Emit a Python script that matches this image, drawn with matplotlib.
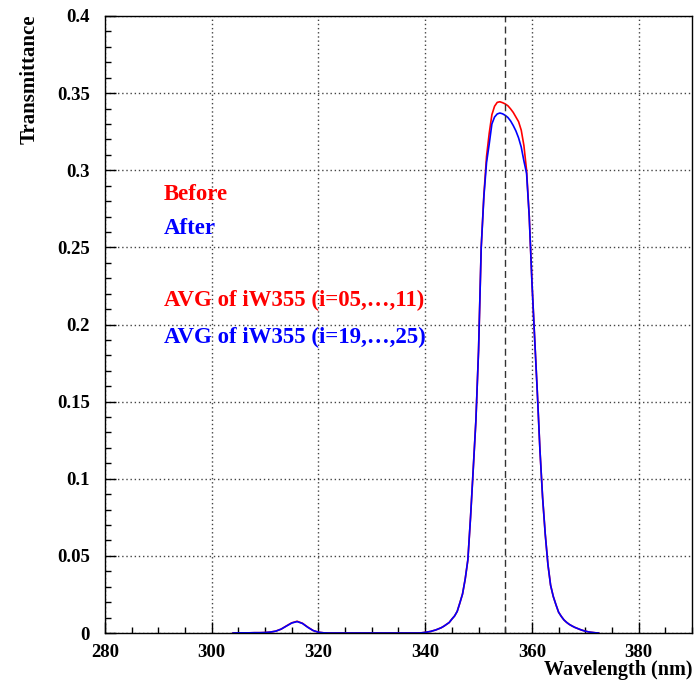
import numpy as np
import matplotlib.pyplot as plt
from matplotlib.ticker import MultipleLocator, FixedLocator

# wavelength grid (nm)
wl = [304, 305, 306, 307, 308, 309, 310, 311, 312, 313, 314, 315, 316, 317,
      318, 319, 320, 321, 322, 325, 330, 335,
      339.0, 339.5, 340.0, 340.5, 341.0, 341.5, 342.0, 342.5, 343.0, 343.5,
      344.0, 344.5, 345.0, 345.5, 346.0, 346.5, 347.0, 347.5, 348.0, 348.5,
      349.0, 349.5, 350.0, 350.5, 351.0, 351.5, 352.0, 352.5, 353.0, 353.5,
      354.0, 354.5, 355.0, 355.5, 356.0, 356.5, 357.0, 357.5, 358.0, 358.5,
      359.0, 359.5, 360.0, 360.5, 361.0, 361.5, 362.0, 362.5, 363.0, 363.5,
      364.0, 364.5, 365.0, 365.5, 366.0, 366.5, 367.0, 367.5, 368.0, 368.5,
      369.0, 369.5, 370.0, 370.5, 371.0, 371.5, 372.0, 372.5]

before = [0.0, 0.0001, 0.0001, 0.0001, 0.0002, 0.0002, 0.0003, 0.0006, 0.0012, 0.0025,
          0.0046, 0.0066, 0.0076, 0.0063, 0.0038, 0.0016, 0.0005, 0.0001, 0.0, 0.0, 0.0, 0.0,
          0.0, 0.0002, 0.0004, 0.0007, 0.001, 0.0015, 0.002, 0.0027, 0.0034, 0.0044,
          0.0056, 0.0068, 0.009, 0.011, 0.014, 0.0195, 0.0253, 0.035, 0.0475, 0.075,
          0.106, 0.1375, 0.183, 0.25, 0.284, 0.309, 0.324, 0.336, 0.3415, 0.344,
          0.3444, 0.3438, 0.343, 0.3418, 0.3398, 0.3375, 0.3345, 0.3315, 0.326, 0.316,
          0.300, 0.27, 0.228, 0.192, 0.157, 0.119, 0.088, 0.064, 0.0445, 0.031,
          0.0237, 0.0184, 0.0135, 0.0108, 0.0085, 0.0069, 0.0056, 0.0046, 0.0037, 0.003,
          0.0023, 0.0017, 0.0012, 0.0008, 0.0005, 0.0003, 0.0001, 0.0]

after = [0.0, 0.0001, 0.0001, 0.0001, 0.0002, 0.0002, 0.0003, 0.0006, 0.0012, 0.0025,
         0.0045, 0.0065, 0.0074, 0.0062, 0.0037, 0.0016, 0.0005, 0.0001, 0.0, 0.0, 0.0, 0.0,
         0.0, 0.0002, 0.0004, 0.0007, 0.001, 0.0015, 0.002, 0.0027, 0.0034, 0.0044,
         0.0056, 0.0068, 0.009, 0.011, 0.014, 0.0195, 0.0253, 0.035, 0.0475, 0.075,
         0.106, 0.1375, 0.183, 0.25, 0.283, 0.305, 0.317, 0.330, 0.3345, 0.3365,
         0.3371, 0.3366, 0.3356, 0.3342, 0.332, 0.329, 0.3255, 0.321, 0.315, 0.306,
         0.298, 0.27, 0.228, 0.192, 0.157, 0.119, 0.088, 0.064, 0.0445, 0.031,
         0.0237, 0.0184, 0.0135, 0.0108, 0.0085, 0.0069, 0.0056, 0.0046, 0.0037, 0.003,
         0.0023, 0.0017, 0.0012, 0.0008, 0.0005, 0.0003, 0.0001, 0.0]

xticks = [280, 300, 320, 340, 360, 380]
yticks = [0, 0.05, 0.1, 0.15, 0.2, 0.25, 0.3, 0.35, 0.4]
ytick_labels = ['0', '0.05', '0.1', '0.15', '0.2', '0.25', '0.3', '0.35', '0.4']
center_wl = 355

plt.rcParams['font.family'] = ['Liberation Serif', 'DejaVu Serif']
plt.rcParams['font.weight'] = 'bold'

fig = plt.figure(figsize=(6.98, 6.83), dpi=100)
ax = fig.add_axes([105 / 698, 50 / 683, 587 / 698, 617 / 683])

ax.plot(wl, before, color='red', lw=1.2)
ax.plot(wl, after, color='blue', lw=1.2)
ax.axvline(center_wl, color='#333333', lw=1.0, ls=(0, (5, 3)))

ax.set_xlim(280, 390)
ax.set_ylim(0, 0.4)
ax.xaxis.set_major_locator(FixedLocator(xticks))
ax.xaxis.set_minor_locator(MultipleLocator(5))
ax.yaxis.set_major_locator(FixedLocator(yticks))
ax.set_yticklabels(ytick_labels)
ax.yaxis.set_minor_locator(MultipleLocator(0.01))

ax.grid(True, which='major', color='#444444', ls=(0, (1, 2)), lw=1.0)
ax.tick_params(which='both', direction='in', top=False, right=False, labelsize=13.5)
ax.tick_params(which='major', length=8, width=1)
ax.tick_params(which='minor', length=4, width=1)
ax.tick_params(axis='y', pad=11)
ax.tick_params(axis='x', pad=8)
for lab in ax.get_xticklabels() + ax.get_yticklabels():
    lab.set_fontweight('bold')
for sp in ax.spines.values():
    sp.set_linewidth(1.0)

txt_size = 16.5
ax.text(291, 0.2807, 'Before', color='red', fontsize=txt_size, fontweight='bold')
ax.text(291, 0.2584, 'After', color='blue', fontsize=txt_size, fontweight='bold')
ax.text(291, 0.2119, 'AVG of iW355 (i=05,\u2026,11)', color='red', fontsize=txt_size,
        fontweight='bold')
ax.text(291, 0.1877, 'AVG of iW355 (i=19,\u2026,25)', color='blue', fontsize=txt_size,
        fontweight='bold')

fig.text(30 / 698, 1 - 15 / 683, 'Transmittance', rotation=90, ha='center', va='top',
         fontsize=15, fontweight='bold')
fig.text(692 / 698, 1 - 670 / 683, 'Wavelength (nm)', ha='right', va='center',
         fontsize=14.5, fontweight='bold')

fig.savefig('out.png', dpi=100)
